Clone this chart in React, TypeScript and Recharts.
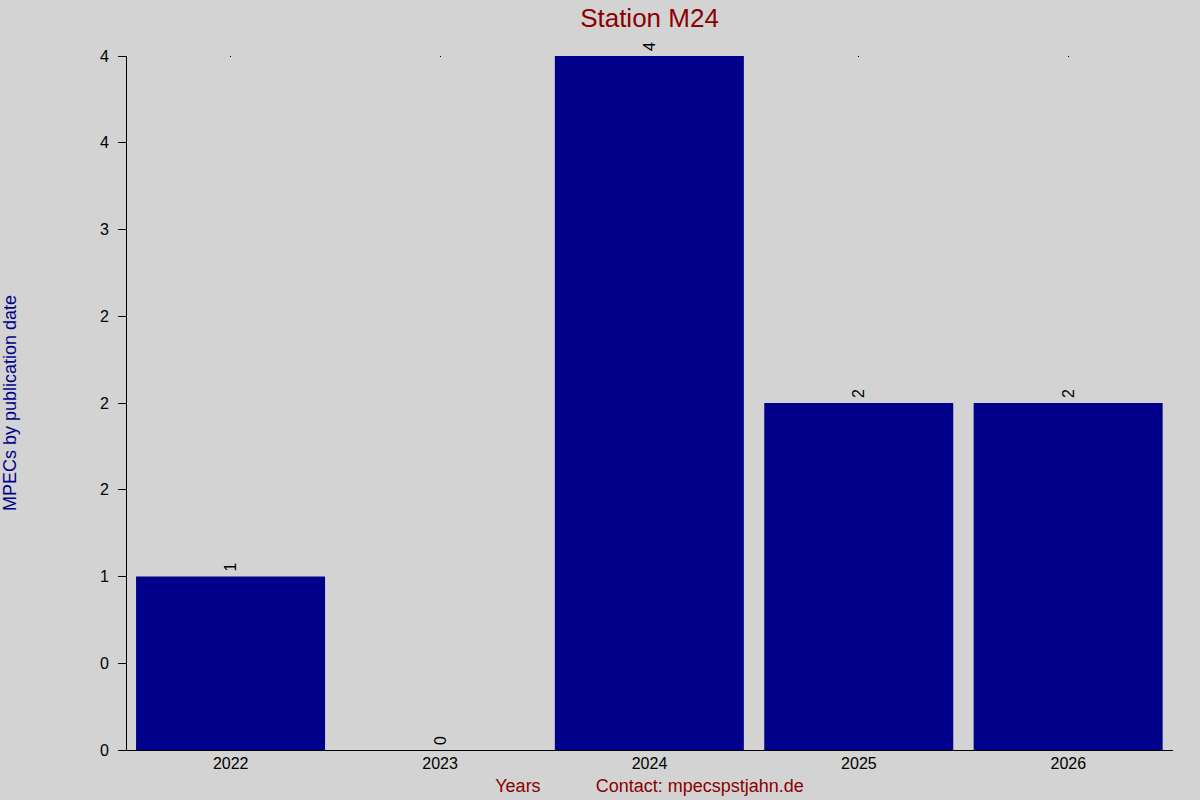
import React from "react";
import { ComposedChart, Bar, Line, XAxis, YAxis, LabelList, Label } from "recharts";

const years = ["2022", "2023", "2024", "2025", "2026"];
const counts = [1, 0, 4, 2, 2];
const yTicks = [0, 0.5, 1, 1.5, 2, 2.5, 3, 3.5, 4];
const yTickLabels = ["0", "0", "1", "2", "2", "2", "3", "4", "4"];

const title = "Station M24";
const yTitle = "MPECs by publication date";
const xTitle = "Years           Contact: mpecspstjahn.de";

const data = years.map((year, i) => ({ year, count: counts[i] }));

const FONT = "'Liberation Sans', Arial, Helvetica, sans-serif";
const BAR_COLOR = "#00008b";
const RED = "#8b0000";

const ValueLabel = (props: any) => {
  const { x, y, value } = props;
  const cx = Number(x);
  const ty = Number(y) - 5;
  return (
    <text
      x={cx}
      y={ty}
      transform={`rotate(-90, ${cx}, ${ty})`}
      textAnchor="start"
      dominantBaseline="central"
      fontSize={16}
      fontFamily={FONT}
      fill="#000"
    >
      {value}
    </text>
  );
};

const renderTopDot = (props: any) => {
  const { x, y } = props;
  return (
    <rect
      x={Math.floor(Number(x))}
      y={Math.floor(Number(y))}
      width={1}
      height={1}
      fill="#000"
      shapeRendering="crispEdges"
    />
  );
};

const YTitle = (props: any) => {
  const vb = props.viewBox || {};
  const cx = vb.x + 10;
  const cy = vb.y + vb.height / 2;
  return (
    <text
      x={cx}
      y={cy}
      transform={`rotate(-90, ${cx}, ${cy})`}
      textAnchor="middle"
      dominantBaseline="central"
      fontSize={18}
      fontFamily={FONT}
      fill={BAR_COLOR}
    >
      {yTitle}
    </text>
  );
};

const XTitle = (props: any) => {
  const vb = props.viewBox || {};
  return (
    <text
      x={vb.x + vb.width / 2}
      y={vb.y + 42}
      textAnchor="middle"
      fontSize={18}
      fontFamily={FONT}
      fill={RED}
      style={{ whiteSpace: "pre" }}
    >
      {xTitle}
    </text>
  );
};

export default function App() {
  React.useEffect(() => {
    document.body.style.margin = "0";
  }, []);
  return (
    <div
      style={{
        position: "absolute",
        left: 0,
        top: 0,
        width: 1200,
        height: 800,
        background: "#d3d3d3",
        fontFamily: FONT,
      }}
    >
      <div
        style={{
          position: "absolute",
          left: 126,
          top: 5,
          width: 1047,
          textAlign: "center",
          fontSize: 26,
          lineHeight: "26px",
          color: RED,
        }}
      >
        {title}
      </div>
      <ComposedChart
        width={1200}
        height={800}
        data={data}
        margin={{ top: 55, right: 27, bottom: 0, left: 0 }}
        barCategoryGap="4.8%"
      >
        <XAxis
          xAxisId="top"
          orientation="top"
          dataKey="year"
          height={1}
          axisLine={false}
          tickLine={false}
          tickSize={0}
          tickMargin={0}
          tick={renderTopDot}
        />
        <XAxis
          dataKey="year"
          height={50}
          axisLine={{ stroke: "#000", strokeWidth: 1, shapeRendering: "crispEdges" }}
          tickLine={false}
          tickSize={0}
          tickMargin={8}
          tick={{ fill: "#000", fontSize: 16, fontFamily: FONT }}
        >
          <Label content={<XTitle />} />
        </XAxis>
        <YAxis
          width={126}
          domain={[0, 4]}
          ticks={yTicks}
          interval={0}
          tickFormatter={(v: number) => yTickLabels[yTicks.indexOf(v)] ?? String(v)}
          axisLine={{ stroke: "#000", strokeWidth: 1, shapeRendering: "crispEdges" }}
          tickLine={{ stroke: "#000", strokeWidth: 1, shapeRendering: "crispEdges" }}
          tickSize={8}
          tickMargin={9}
          tick={{ fill: "#000", fontSize: 16, fontFamily: FONT }}
        >
          <Label content={<YTitle />} />
        </YAxis>
        <Bar dataKey="count" fill={BAR_COLOR} isAnimationActive={false} />
        <Line
          dataKey="count"
          stroke="none"
          dot={false}
          activeDot={false}
          isAnimationActive={false}
        >
          <LabelList dataKey="count" content={<ValueLabel />} />
        </Line>
      </ComposedChart>
    </div>
  );
}
